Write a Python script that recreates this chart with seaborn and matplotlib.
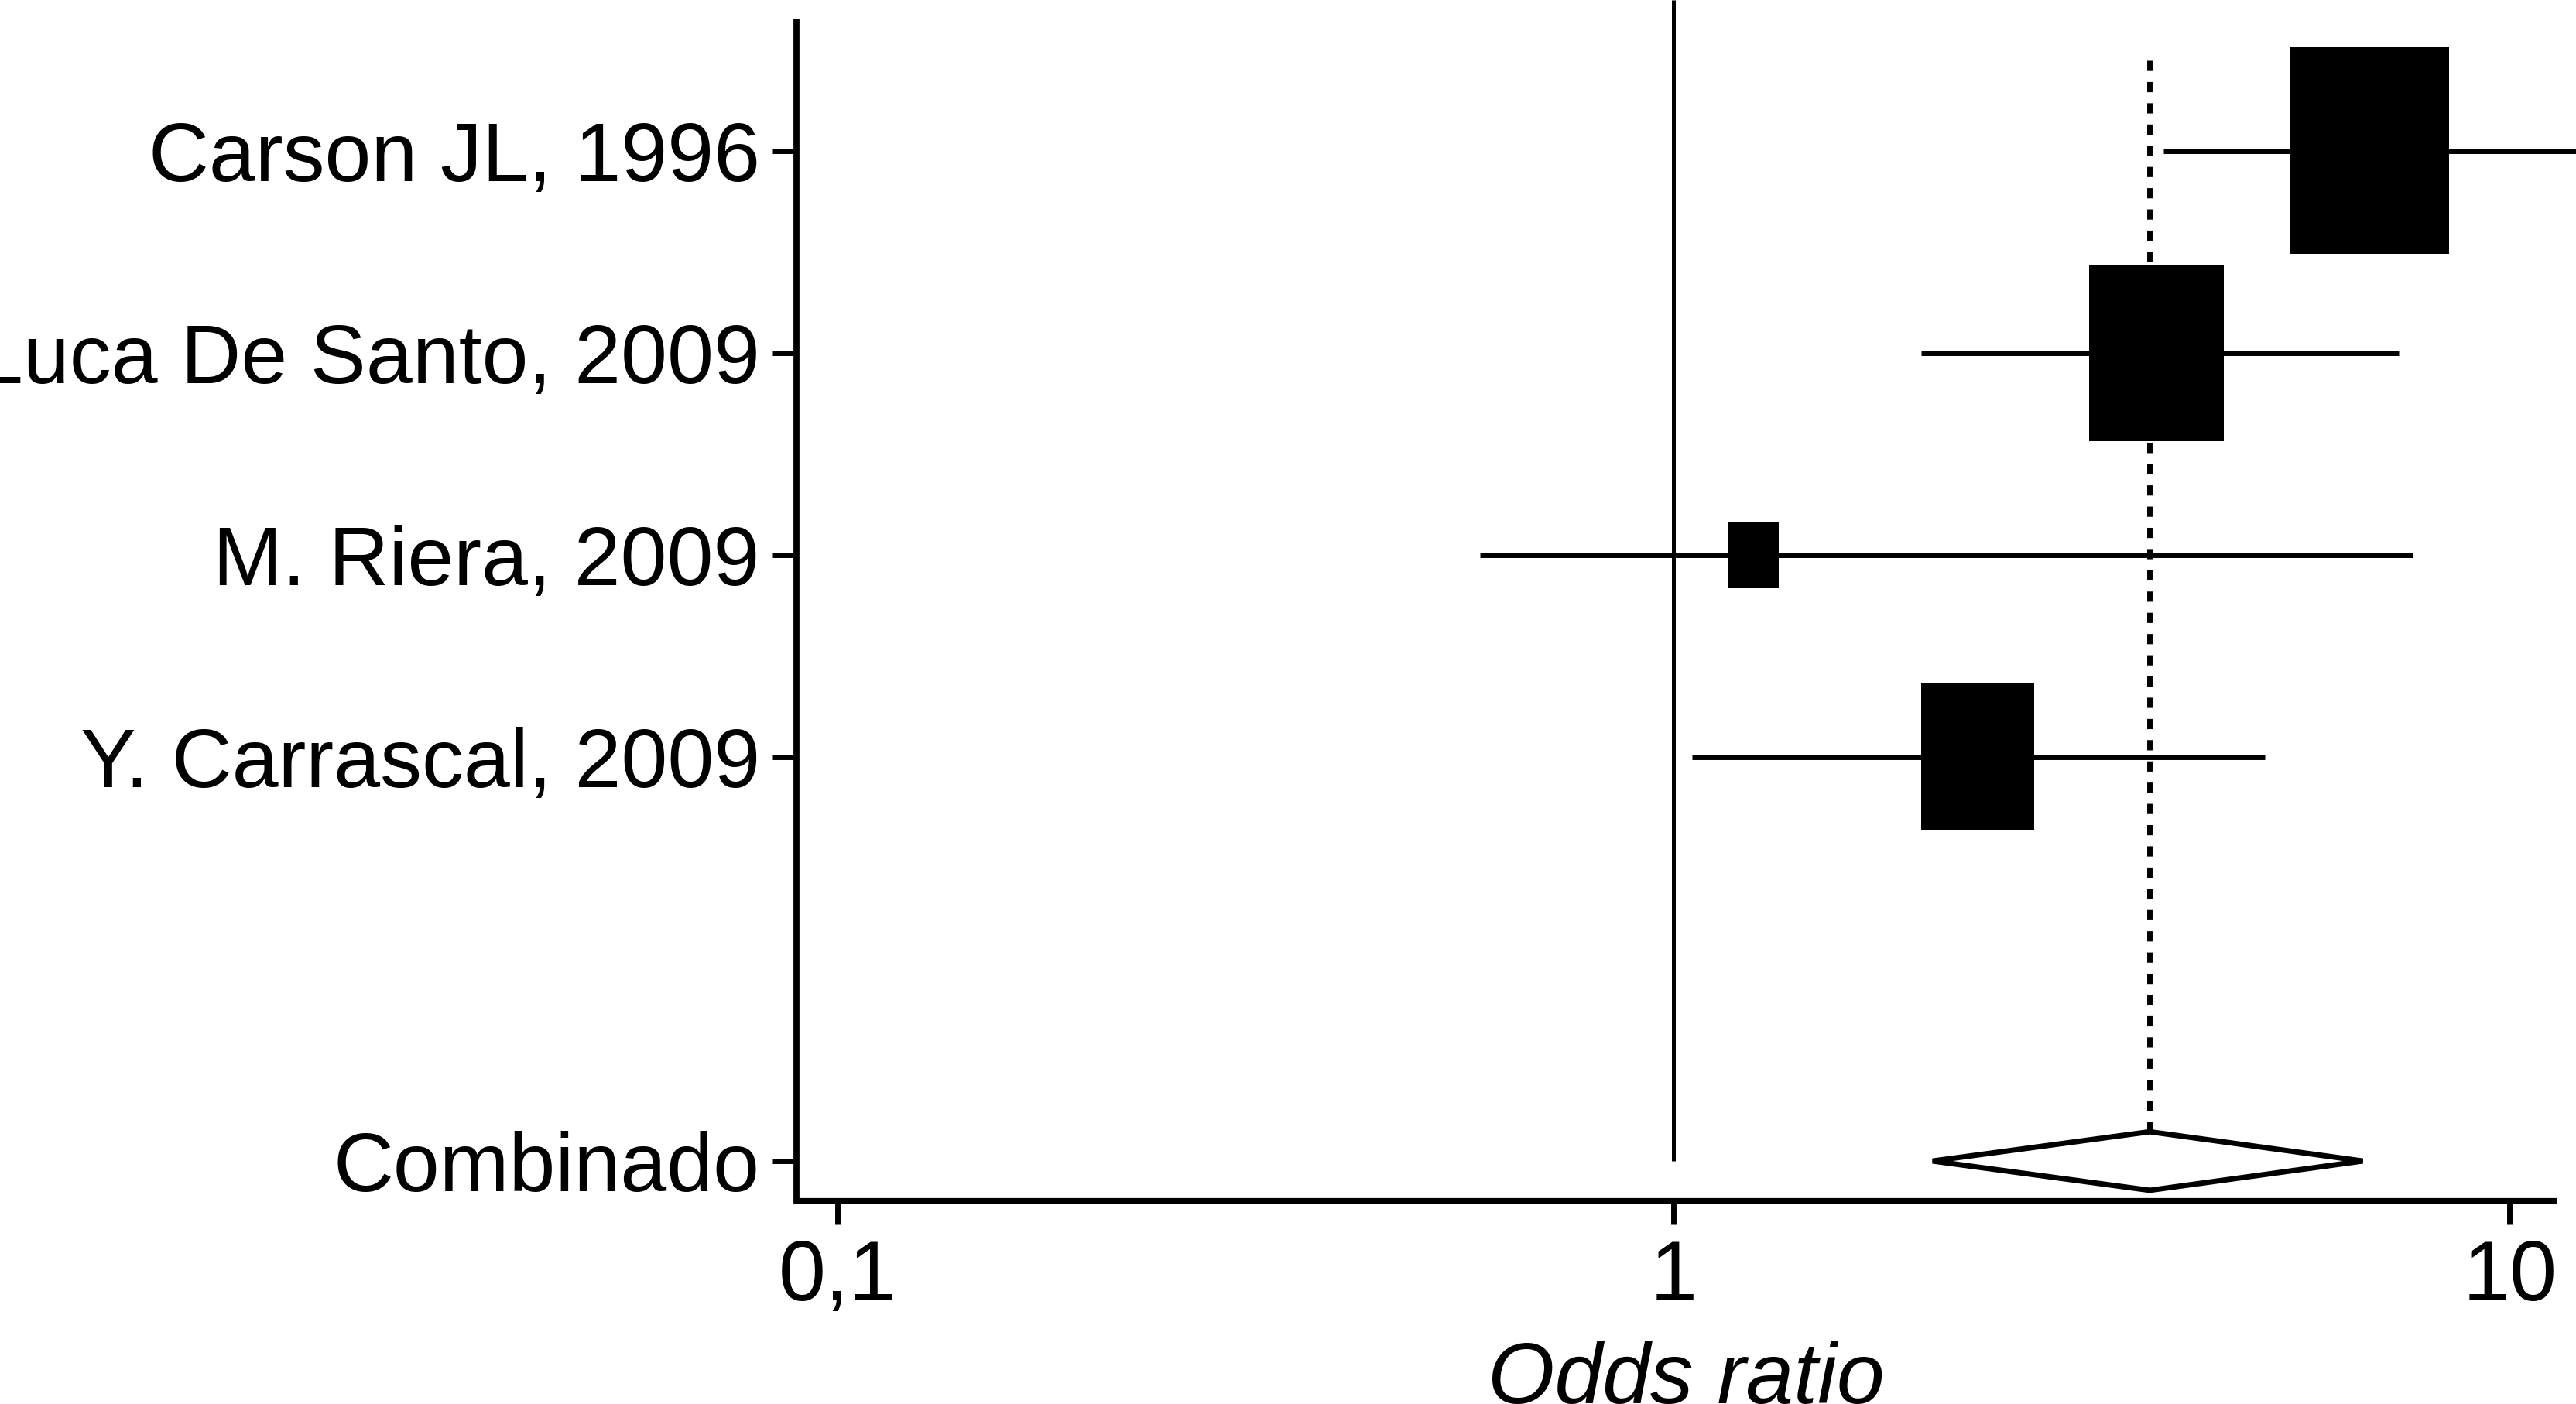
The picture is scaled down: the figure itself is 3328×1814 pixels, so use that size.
import numpy as np
import pandas as pd
import seaborn as sns
import matplotlib.pyplot as plt
from matplotlib.path import Path
from matplotlib.ticker import FixedLocator, FixedFormatter, NullLocator

# studies (top to bottom)
studies = ["Carson JL, 1996", "Luca De Santo, 2009", "M. Riera, 2009", "Y. Carrascal, 2009"]
odds = [6.80, 3.78, 1.245, 2.31]
ci_low = [3.85, 1.975, 0.587, 1.051]
ci_high = [13.5, 7.36, 7.66, 5.09]
weights = [42.7, 31.1, 4.4, 21.8]

# pooled estimate
pooled_label = "Combinado"
pooled_or = 3.71
pooled_low = 2.04
pooled_high = 6.67

xticks = [0.1, 1, 10]
xticklabels = ["0,1", "1", "10"]
xlabel = "Odds ratio"

df = pd.DataFrame({"study": studies, "odds": odds, "low": ci_low,
                   "high": ci_high, "weight": weights})
df["pos"] = np.arange(len(df))
pooled_pos = len(df) + 1

sns.set_style("ticks")
plt.rcParams["font.family"] = ["Liberation Sans", "DejaVu Sans"]
plt.rcParams["axes.edgecolor"] = "black"
plt.rcParams["xtick.color"] = "black"
plt.rcParams["ytick.color"] = "black"
plt.rcParams["text.color"] = "black"
plt.rcParams["axes.labelcolor"] = "black"

fig = plt.figure(figsize=(33.28, 18.14), dpi=100)
ax = fig.add_axes([0.3092, 0.1450, 0.6908, 0.8550])
ax.set_xscale("log")

ytop, ybot = -0.747, 5.195
xlo, xhi = 0.0893, 12.0

# reference line at OR = 1 and dotted line at pooled OR
diamond_h = 0.145
ax.vlines(1, ytop, pooled_pos, color="black", lw=3.6, zorder=1)
ax.vlines(pooled_or, -0.45, pooled_pos - diamond_h, color="black", lw=5,
          linestyles=[(0, (1.9, 2.05))], zorder=1)

# confidence intervals
ax.hlines(df["pos"], df["low"], df["high"], color="black", lw=5, zorder=2)

# weighted boxes
box = Path([(-0.3825, -0.5), (0.3825, -0.5), (0.3825, 0.5), (-0.3825, 0.5), (-0.3825, -0.5)],
           [Path.MOVETO, Path.LINETO, Path.LINETO, Path.LINETO, Path.CLOSEPOLY])
smax = (267 * 72 / 100) ** 2
sns.scatterplot(data=df, x="odds", y="pos", size="weight", sizes=(0, smax),
                size_norm=(0, df["weight"].max()), marker=box, color="black",
                edgecolor="black", linewidth=0, legend=False, ax=ax, zorder=3)

# pooled diamond
ax.fill([pooled_low, pooled_or, pooled_high, pooled_or, pooled_low],
        [pooled_pos, pooled_pos - diamond_h, pooled_pos, pooled_pos + diamond_h, pooled_pos],
        facecolor="white", edgecolor="black", lw=5, joinstyle="bevel", zorder=4)

ax.set_xlim(xlo, xhi)
ax.set_ylim(ybot, ytop)

ax.xaxis.set_major_locator(FixedLocator(xticks))
ax.xaxis.set_major_formatter(FixedFormatter(xticklabels))
ax.xaxis.set_minor_locator(NullLocator())
ax.set_yticks(list(df["pos"]) + [pooled_pos])
ax.set_yticklabels(studies + [pooled_label])

ax.tick_params(axis="both", which="major", length=22, width=5)
ax.tick_params(axis="x", pad=14, labelsize=79)
ax.tick_params(axis="y", pad=12, labelsize=77.5)
ax.set_xlabel(xlabel, fontsize=80, fontstyle="italic", labelpad=21)
ax.set_ylabel("")

for side in ["top", "right"]:
    ax.spines[side].set_visible(False)
ax.spines["left"].set_linewidth(5.6)
ax.spines["bottom"].set_linewidth(5.2)
ax.spines["left"].set_bounds(ybot, -0.64)
ax.spines["bottom"].set_bounds(xlo, 11.28)

fig.savefig("out.png", dpi=100)
